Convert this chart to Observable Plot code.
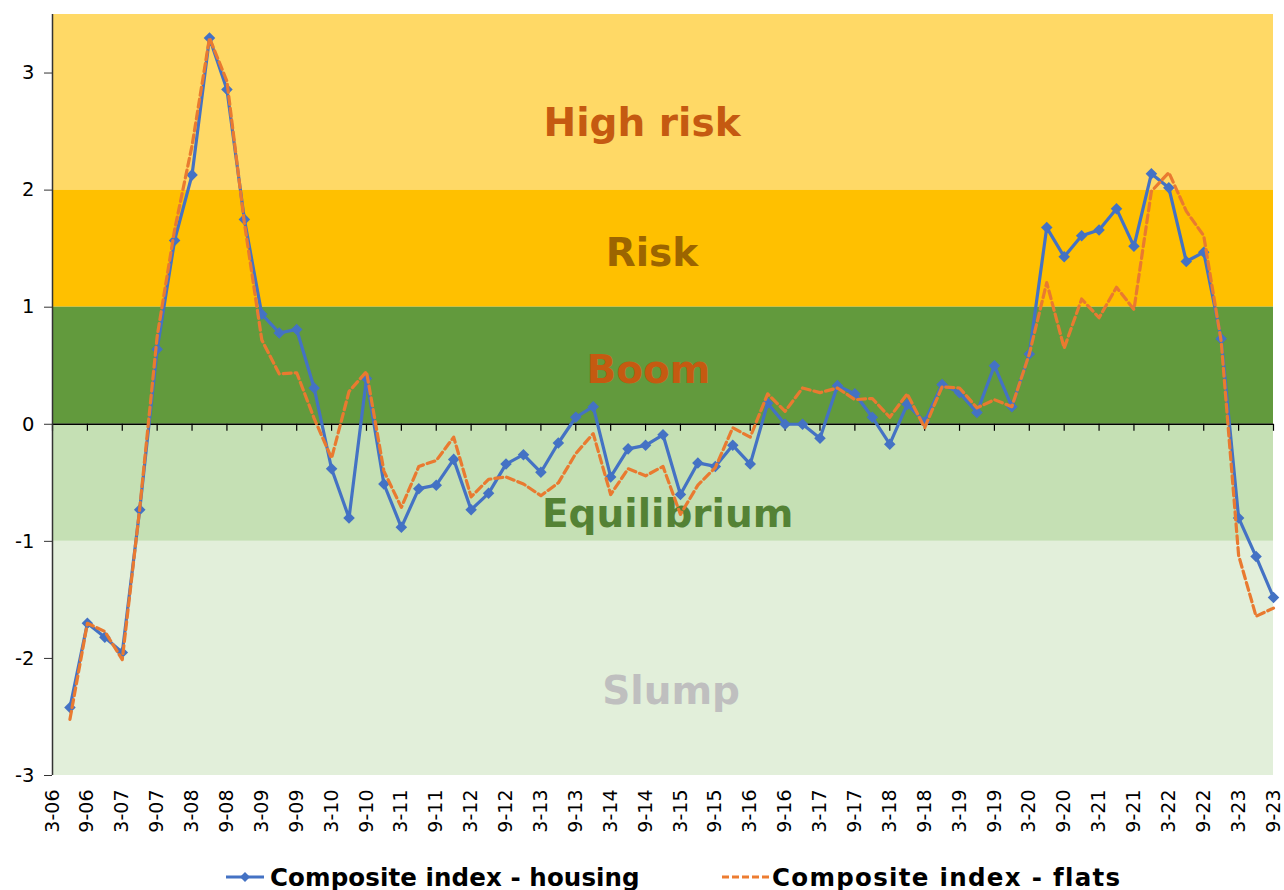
<!DOCTYPE html>
<html>
<head>
<meta charset="utf-8">
<script src="https://cdn.jsdelivr.net/npm/d3@7"></script>
<script src="https://cdn.jsdelivr.net/npm/@observablehq/plot@0.6"></script>
<style>
  html, body { margin: 0; padding: 0; background: #fff; }
  body { position: relative; width: 1284px; height: 890px; font-family: "DejaVu Sans", Verdana, sans-serif; }
  #legend { position: absolute; top: 862px; left: 0; width: 1284px; height: 30px; }
  .item { position: absolute; top: 0; height: 30px; display: flex; align-items: center; }
  .item span { font-weight: bold; font-size: 24.5px; color: #000; white-space: nowrap; }
</style>
</head>
<body>
<div id="chart"></div>
<div id="legend">
  <div class="item" style="left:226px">
    <svg width="40" height="30"><line x1="0" y1="15" x2="38" y2="15" stroke="#4472C4" stroke-width="3"/><path d="M19,10 L24,15 L19,20 L14,15 Z" fill="#4472C4"/></svg>
    <span style="margin-left:4px; letter-spacing:0.1px">Composite index - housing</span>
  </div>
  <div class="item" style="left:722px">
    <svg width="48" height="30"><line x1="0" y1="15" x2="47" y2="15" stroke="#ED7D31" stroke-width="3" stroke-dasharray="7,3"/></svg>
    <span style="margin-left:2px; letter-spacing:1.3px">Composite index - flats</span>
  </div>
</div>
<script>
// ---- data ----
const quarters = [
  "6-06","9-06","12-06",
  "3-07","6-07","9-07","12-07",
  "3-08","6-08","9-08","12-08",
  "3-09","6-09","9-09","12-09",
  "3-10","6-10","9-10","12-10",
  "3-11","6-11","9-11","12-11",
  "3-12","6-12","9-12","12-12",
  "3-13","6-13","9-13","12-13",
  "3-14","6-14","9-14","12-14",
  "3-15","6-15","9-15","12-15",
  "3-16","6-16","9-16","12-16",
  "3-17","6-17","9-17","12-17",
  "3-18","6-18","9-18","12-18",
  "3-19","6-19","9-19","12-19",
  "3-20","6-20","9-20","12-20",
  "3-21","6-21","9-21","12-21",
  "3-22","6-22","9-22","12-22",
  "3-23","6-23","9-23"
];
const housing = [
  -2.42, -1.70, -1.82,
  -1.95, -0.73, 0.64, 1.57,
  2.13, 3.30, 2.86, 1.75,
  0.94, 0.78, 0.81, 0.31,
  -0.38, -0.80, 0.39, -0.51,
  -0.88, -0.55, -0.52, -0.30,
  -0.73, -0.59, -0.34, -0.26,
  -0.41, -0.16, 0.06, 0.15,
  -0.45, -0.21, -0.18, -0.09,
  -0.60, -0.33, -0.36, -0.18,
  -0.34, 0.18, 0.00, 0.00,
  -0.12, 0.33, 0.26, 0.06,
  -0.17, 0.17, 0.02, 0.34,
  0.27, 0.10, 0.50, 0.15,
  0.60, 1.68, 1.43, 1.61,
  1.66, 1.84, 1.52, 2.14,
  2.02, 1.39, 1.47, 0.73,
  -0.80, -1.13, -1.48
];
const flats = [
  -2.52, -1.70, -1.77,
  -2.01, -0.72, 0.75, 1.66,
  2.38, 3.30, 2.93, 1.72,
  0.72, 0.43, 0.44, 0.05,
  -0.29, 0.28, 0.45, -0.40,
  -0.71, -0.36, -0.31, -0.11,
  -0.62, -0.47, -0.45, -0.51,
  -0.61, -0.50, -0.25, -0.08,
  -0.60, -0.38, -0.44, -0.36,
  -0.77, -0.52, -0.37, -0.03,
  -0.11, 0.26, 0.11, 0.31,
  0.27, 0.31, 0.21, 0.22,
  0.06, 0.26, -0.03, 0.32,
  0.31, 0.14, 0.21, 0.15,
  0.60, 1.21, 0.65, 1.07,
  0.91, 1.17, 0.98, 1.99,
  2.15, 1.82, 1.61, 0.71,
  -1.12, -1.64, -1.57
];
const tickLabels = [
  "3-06","9-06","3-07","9-07","3-08","9-08","3-09","9-09","3-10","9-10",
  "3-11","9-11","3-12","9-12","3-13","9-13","3-14","9-14","3-15","9-15",
  "3-16","9-16","3-17","9-17","3-18","9-18","3-19","9-19","3-20","9-20",
  "3-21","9-21","3-22","9-22","3-23","9-23"
];
const yTicks = [-3, -2, -1, 0, 1, 2, 3];
const zoneNames = ["High risk", "Risk", "Boom", "Equilibrium", "Slump"];
const zoneLow  = [2, 1, 0, -1, -3];
const zoneHigh = [3.5, 2, 1, 0, -1];

// ---- styles / layout ----
const zoneFill = ["#FFD966", "#FFC000", "#629A3D", "#C5E0B4", "#E2EFDA"];
const zoneText = ["#C55A11", "#9C6500", "#C55A11", "#548235", "#BFBFBF"];
const zoneLabelX = [101.4, 103.1, 102.5, 105.8, 106.4]; // months since 3-06
const zoneLabelY = [2.57, 1.46, 0.46, -0.77, -2.28];

// month index (0 = March 2006) from an "m-yy" label
const monthIndex = s => { const [m, yy] = s.split("-").map(Number); return (yy - 6) * 12 + (m - 3); };

const housingData = quarters.map((q, i) => ({m: monthIndex(q), v: housing[i]}));
const flatsData = quarters.map((q, i) => ({m: monthIndex(q), v: flats[i]}));
const tickPos = tickLabels.map(monthIndex);
const labelOf = new Map(tickLabels.map(t => [monthIndex(t), t]));
const zones = zoneNames.map((name, i) => ({name, lo: zoneLow[i], hi: zoneHigh[i], fill: zoneFill[i], tc: zoneText[i], lx: zoneLabelX[i], ly: zoneLabelY[i]}));
const xMin = tickPos[0], xMax = tickPos[tickPos.length - 1];

const chart = Plot.plot({
  width: 1284,
  height: 845,
  marginLeft: 52,
  marginRight: 11,
  marginTop: 14,
  marginBottom: 70,
  style: {fontFamily: "DejaVu Sans, Verdana, sans-serif", background: "#fff", color: "#000"},
  x: {domain: [xMin, xMax], axis: null},
  y: {domain: [-3, 3.5], axis: null},
  color: {type: "identity"},
  marks: [
    Plot.rect(zones, {x1: () => xMin, x2: () => xMax, y1: "lo", y2: "hi", fill: "fill"}),
    Plot.text(zones, {x: "lx", y: "ly", text: "name", fill: "tc", fontSize: 39, fontWeight: "bold", lineAnchor: "middle"}),
    Plot.ruleY([0], {stroke: "#000", strokeWidth: 1.5}),
    Plot.ruleX(tickPos, {x: d => d, y1: () => 0, y2: () => -0.06, stroke: "#000", strokeWidth: 1.2}),
    Plot.ruleX([xMin], {y1: () => -3, y2: () => 3.5, stroke: "#333", strokeWidth: 1.5}),
    Plot.axisY({ticks: yTicks, tickSize: 8, tickPadding: 10, fontSize: 19.5, tickFormat: d => String(d), stroke: "#333"}),
    Plot.axisX({ticks: tickPos, tickFormat: d => labelOf.get(d), tickRotate: -90, tickSize: 0, tickPadding: 14, fontSize: 19}),
    Plot.line(housingData, {x: "m", y: "v", stroke: "#4472C4", strokeWidth: 3.2}),
    Plot.dot(housingData, {x: "m", y: "v", symbol: "diamond2", r: 5.2, fill: "#4472C4", stroke: "none"}),
    Plot.line(flatsData, {x: "m", y: "v", stroke: "#E97A30", strokeWidth: 3.2, strokeDasharray: "8,4"})
  ]
});
document.getElementById("chart").appendChild(chart);
</script>
</body>
</html>
